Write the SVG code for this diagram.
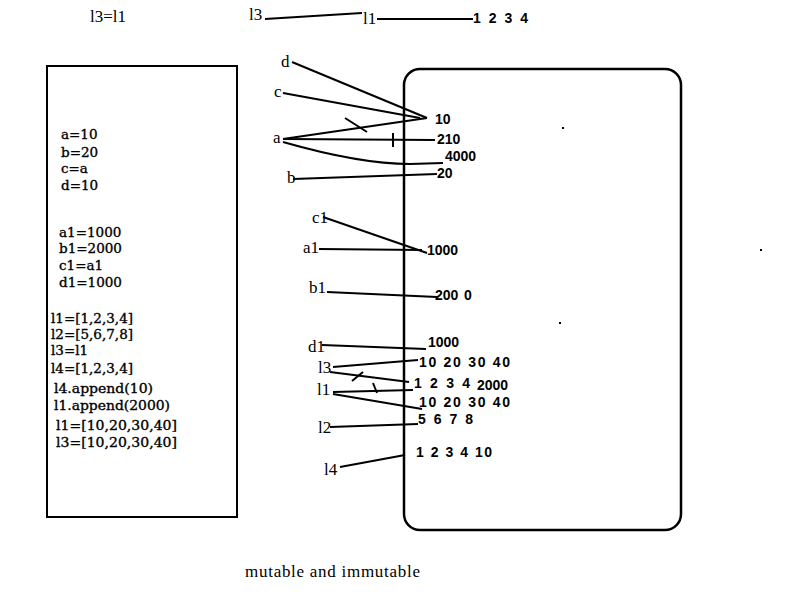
<svg xmlns="http://www.w3.org/2000/svg" width="800" height="600" viewBox="0 0 800 600">
<style>
.code{font-family:"DejaVu Serif","Liberation Serif",serif;font-size:13.5px;fill:#000;stroke:#000;stroke-width:0.35}
.lbl{font-family:"Liberation Serif","Times New Roman",serif;font-size:17px;fill:#000}
.num{font-family:"Liberation Sans",Arial,sans-serif;font-size:14px;font-weight:bold;fill:#000}
.ln{stroke:#000;stroke-width:2;fill:none}
</style>
<rect width="800" height="600" fill="#fff"/>
<g id="code-box">
<rect x="47" y="66" width="190" height="451" fill="#fff" stroke="#000" stroke-width="2"/>
<text class="code" x="61" y="139">a=10</text>
<text class="code" x="61" y="157">b=20</text>
<text class="code" x="61" y="173">c=a</text>
<text class="code" x="61" y="190">d=10</text>
<text class="code" x="59" y="237">a1=1000</text>
<text class="code" x="59" y="253">b1=2000</text>
<text class="code" x="59" y="270">c1=a1</text>
<text class="code" x="59" y="287">d1=1000</text>
<text class="code" x="51" y="323">l1=[1,2,3,4]</text>
<text class="code" x="51" y="339">l2=[5,6,7,8]</text>
<text class="code" x="51" y="355">l3=l1</text>
<text class="code" x="51" y="373">l4=[1,2,3,4]</text>
<text class="code" x="54" y="393" textLength="99" lengthAdjust="spacingAndGlyphs">l4.append(10)</text>
<text class="code" x="54" y="410" textLength="116" lengthAdjust="spacingAndGlyphs">l1.append(2000)</text>
<text class="code" x="56" y="430" textLength="121" lengthAdjust="spacingAndGlyphs">l1=[10,20,30,40]</text>
<text class="code" x="56" y="447" textLength="121" lengthAdjust="spacingAndGlyphs">l3=[10,20,30,40]</text>
</g>
<g id="memory-box">
<rect x="404" y="69" width="277" height="461" rx="16" ry="16" fill="none" stroke="#000" stroke-width="2.5"/>
<rect x="562" y="127" width="2" height="2" fill="#000"/>
<rect x="760" y="249" width="2" height="2" fill="#000"/>
<rect x="559" y="322" width="2" height="2" fill="#000"/>
</g>
<g id="top-row">
<text class="lbl" x="90" y="22" textLength="36" lengthAdjust="spacingAndGlyphs">l3=l1</text>
<text class="lbl" x="249" y="20">l3</text>
<text class="lbl" x="363" y="24">l1</text>
<text class="num" x="473" y="23" textLength="55" lengthAdjust="spacing">1 2 3 4</text>
</g>
<g id="labels">
<text class="lbl" x="281" y="67">d</text>
<text class="lbl" x="274" y="97">c</text>
<text class="lbl" x="273" y="143">a</text>
<text class="lbl" x="287" y="183">b</text>
<text class="lbl" x="312" y="223">c1</text>
<text class="lbl" x="303" y="253">a1</text>
<text class="lbl" x="309" y="293">b1</text>
<text class="lbl" x="308" y="352">d1</text>
<text class="lbl" x="318" y="373">l3</text>
<text class="lbl" x="317" y="395">l1</text>
<text class="lbl" x="318" y="433">l2</text>
<text class="lbl" x="324" y="475">l4</text>
</g>
<g id="values">
<text class="num" x="435" y="124">10</text>
<text class="num" x="437" y="144">210</text>
<text class="num" x="445" y="161">4000</text>
<text class="num" x="437" y="178">20</text>
<text class="num" x="427" y="255">1000</text>
<text class="num" x="435" y="300">200</text>
<text class="num" x="464" y="300">0</text>
<text class="num" x="428" y="347">1000</text>
<text class="num" x="419" y="367" textLength="91" lengthAdjust="spacing">10 20 30 40</text>
<text class="num" x="414" y="388" textLength="56" lengthAdjust="spacing">1 2 3 4</text>
<text class="num" x="477" y="390">2000</text>
<text class="num" x="419" y="407" textLength="91" lengthAdjust="spacing">10 20 30 40</text>
<text class="num" x="418" y="424" textLength="55" lengthAdjust="spacing">5 6 7 8</text>
<text class="num" x="416" y="457" textLength="76" lengthAdjust="spacing">1 2 3 4 10</text>
</g>
<g id="connectors">
<line class="ln" x1="265" y1="19" x2="362" y2="13"/>
<line class="ln" x1="377" y1="19" x2="473" y2="19"/>
<line class="ln" x1="292" y1="62" x2="427" y2="118"/>
<line class="ln" x1="283" y1="93" x2="420" y2="118"/>
<line class="ln" x1="283" y1="139" x2="427" y2="118"/>
<line class="ln" x1="345" y1="118" x2="367" y2="132"/>
<line class="ln" x1="283" y1="139" x2="435" y2="140"/>
<line class="ln" x1="393" y1="133" x2="393" y2="147"/>
<path class="ln" d="M283 142 Q360 164 410 164 L443 163"/>
<line class="ln" x1="293" y1="179" x2="437" y2="174"/>
<line class="ln" x1="323" y1="217" x2="427" y2="253"/>
<line class="ln" x1="319" y1="249" x2="422" y2="250"/>
<line class="ln" x1="327" y1="292" x2="437" y2="297"/>
<line class="ln" x1="322" y1="345" x2="426" y2="349"/>
<line class="ln" x1="333" y1="367" x2="418" y2="360"/>
<line class="ln" x1="330" y1="372" x2="409" y2="382"/>
<line class="ln" x1="352" y1="381" x2="363" y2="372"/>
<line class="ln" x1="333" y1="392" x2="413" y2="390"/>
<line class="ln" x1="373" y1="383" x2="377" y2="393"/>
<line class="ln" x1="333" y1="394" x2="422" y2="409"/>
<line class="ln" x1="330" y1="427" x2="418" y2="424"/>
<line class="ln" x1="340" y1="467" x2="405" y2="455"/>
</g>
<text class="lbl" x="245" y="577" textLength="175" lengthAdjust="spacing">mutable and immutable</text>
</svg>
